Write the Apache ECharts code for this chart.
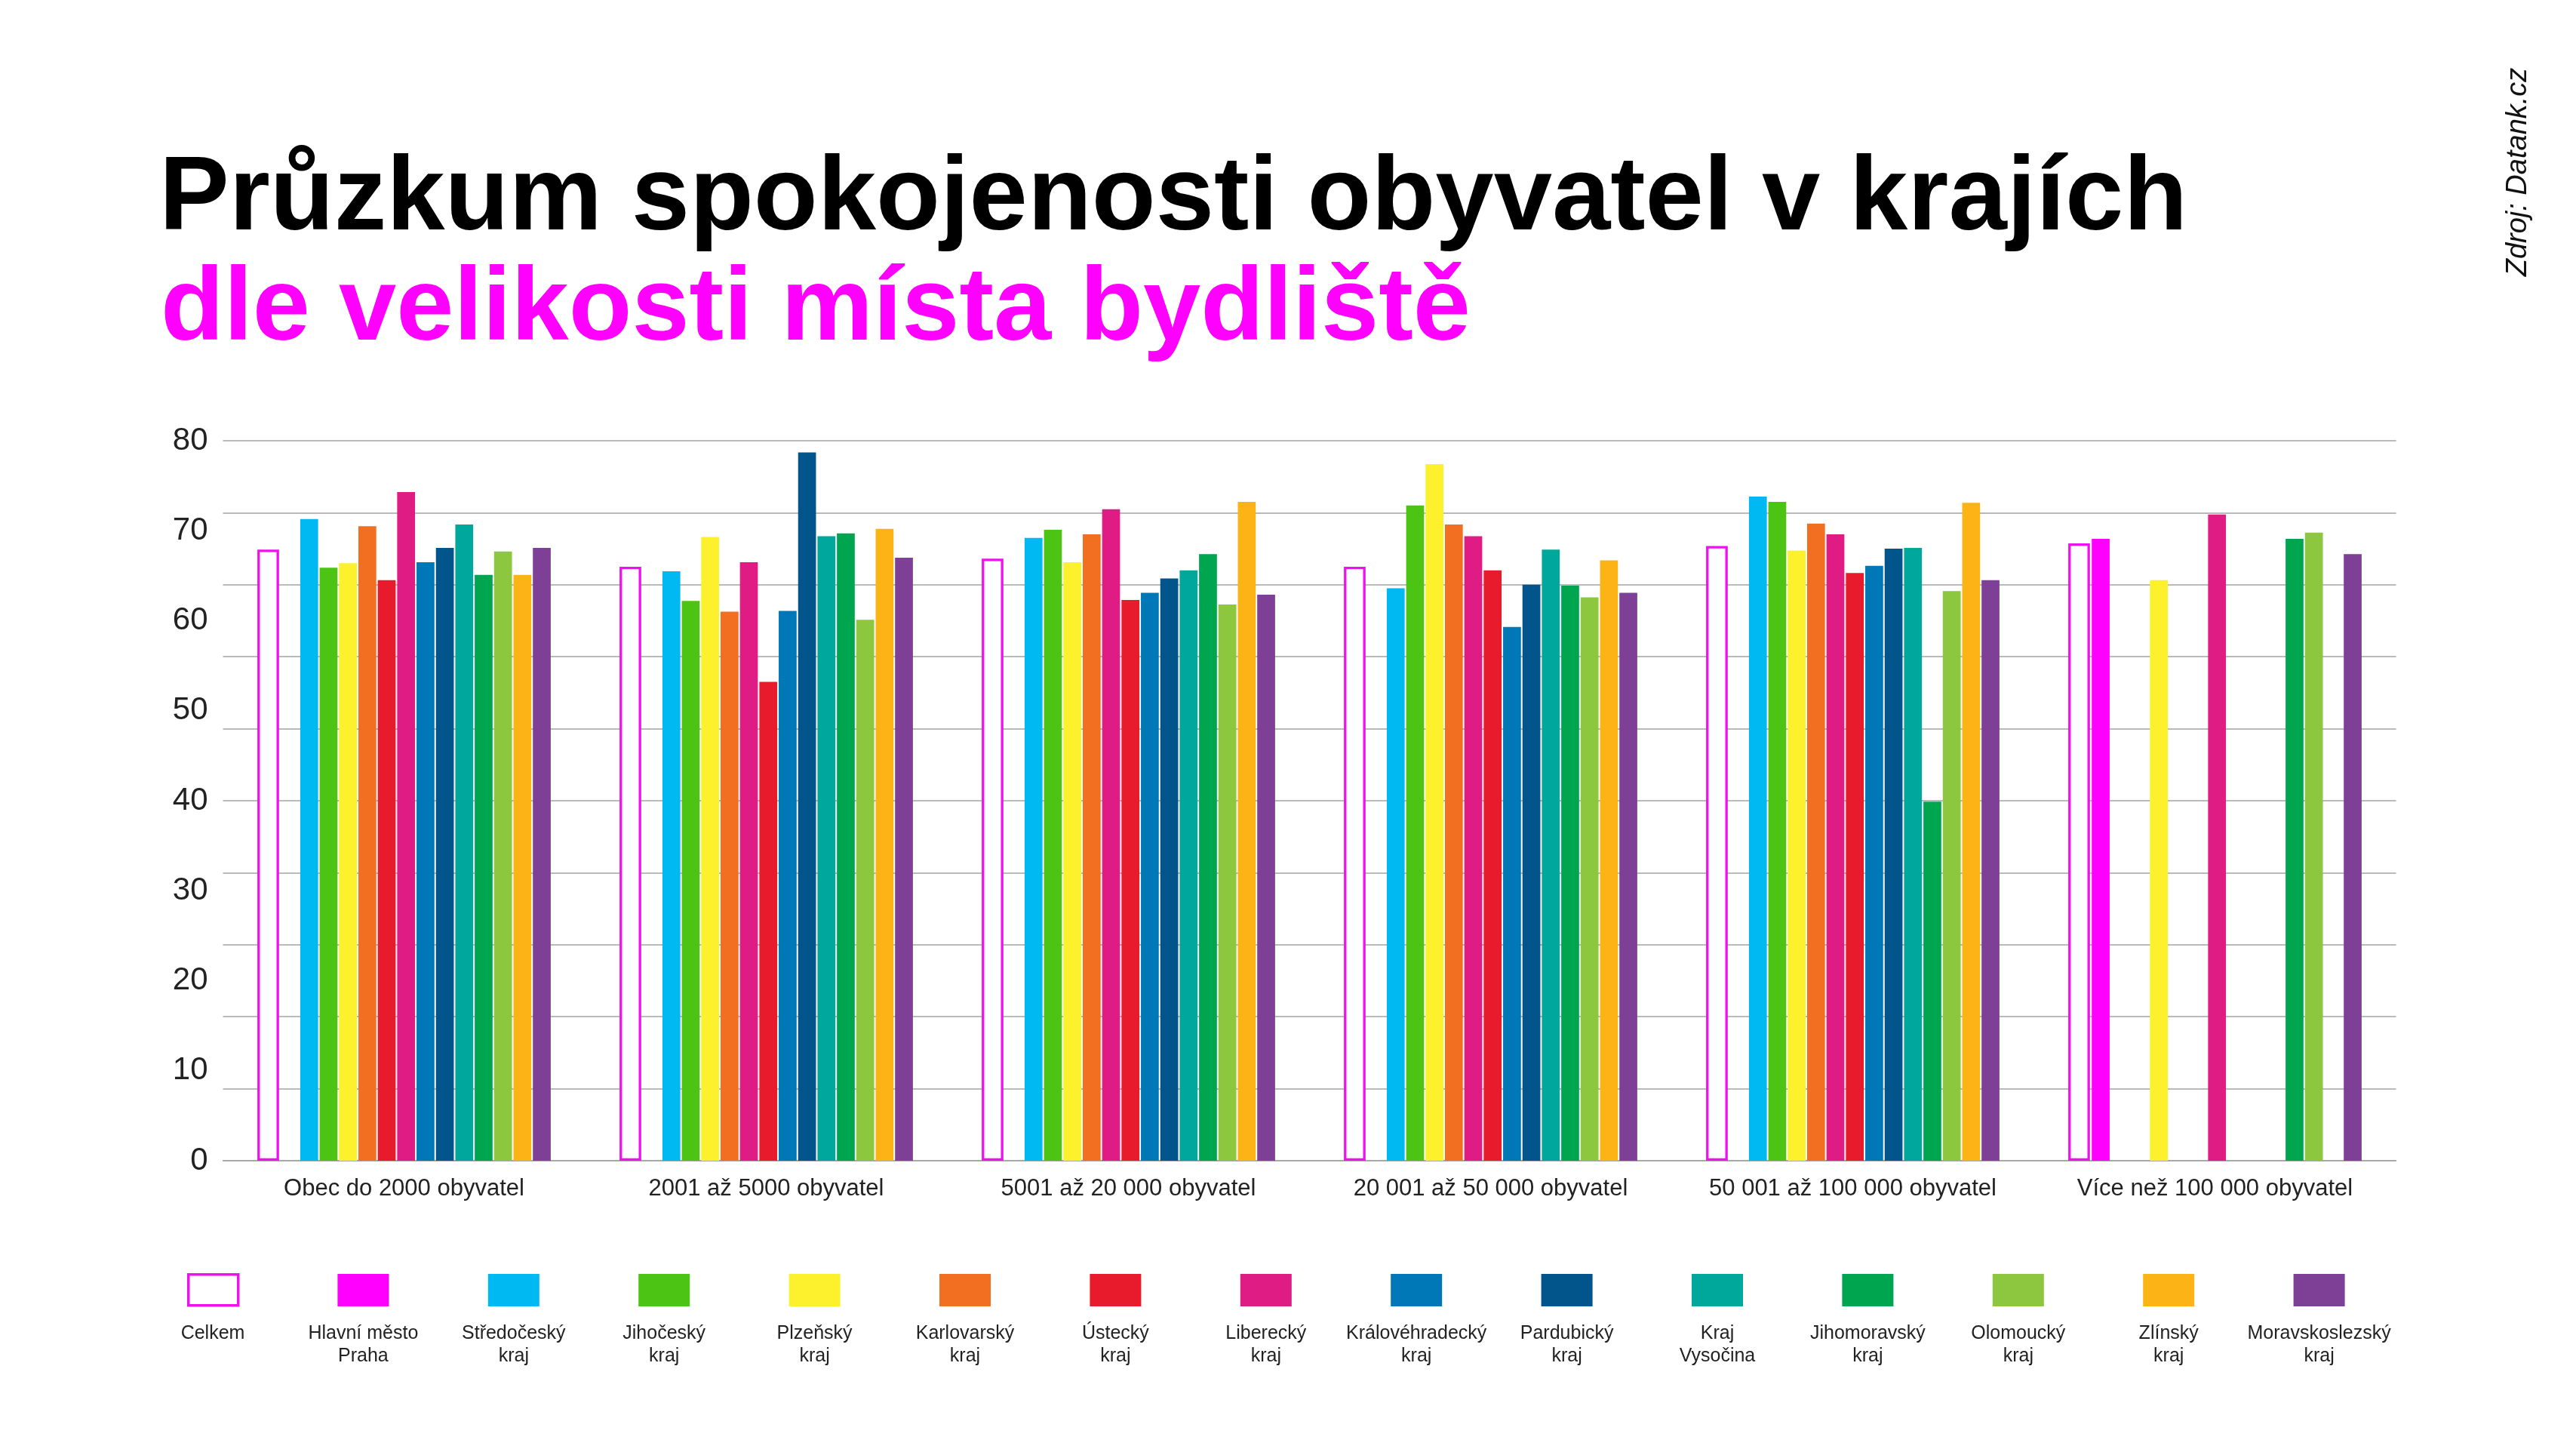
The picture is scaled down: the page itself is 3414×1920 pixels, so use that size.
<!DOCTYPE html>
<html>
<head>
<meta charset="utf-8">
<script src="https://cdn.jsdelivr.net/npm/echarts@6/dist/echarts.min.js"></script>
<style>
html, body { margin: 0; padding: 0; background: #fff; }
#main { width: 3414px; height: 1920px; }
</style>
</head>
<body>
<div id="main"></div>
<script>
// kategorie podle velikosti obce
var categories = ['Obec do 2000 obyvatel', '2001 až 5000 obyvatel', '5001 až 20 000 obyvatel',
  '20 001 až 50 000 obyvatel', '50 001 až 100 000 obyvatel', 'Více než 100 000 obyvatel'];

// hodnoty (null = bez dat)
var celkem          = [67.9, 66.0, 66.9, 66.0, 68.3, 68.6];
var praha           = [null, null, null, null, null, 69.1];
var stredocesky     = [71.3, 65.5, 69.2, 63.6, 73.8, null];
var jihocesky       = [65.9, 62.2, 70.1, 72.8, 73.2, null];
var plzensky        = [66.4, 69.3, 66.5, 77.4, 67.8, 64.5];
var karlovarsky     = [70.5, 61.0, 69.6, 70.7, 70.8, null];
var ustecky         = [64.5, 53.2, 62.3, 65.6, 65.3, null];
var liberecky       = [74.3, 66.5, 72.4, 69.4, 69.6, 71.8];
var kralovehradecky = [66.5, 61.1, 63.1, 59.3, 66.1, null];
var pardubicky      = [68.1, 78.7, 64.7, 64.0, 68.0, null];
var vysocina        = [70.7, 69.4, 65.6, 67.9, 68.1, null];
var jihomoravsky    = [65.1, 69.7, 67.4, 63.9, 39.9, 69.1];
var olomoucky       = [67.7, 60.1, 61.8, 62.6, 63.3, 69.8];
var zlinsky         = [65.1, 70.2, 73.2, 66.7, 73.1, null];
var moravskoslezsky = [68.1, 67.0, 62.9, 63.1, 64.5, 67.4];

// v techto skupinach je Liberecky sloupec pred Usteckym
var libereckyFirst = [false, true, true, true, true, false];

var legendNames = ['Celkem', 'Hlavní město\nPraha', 'Středočeský\nkraj', 'Jihočeský\nkraj', 'Plzeňský\nkraj',
  'Karlovarský\nkraj', 'Ústecký\nkraj', 'Liberecký\nkraj', 'Královéhradecký\nkraj', 'Pardubický\nkraj',
  'Kraj\nVysočina', 'Jihomoravský\nkraj', 'Olomoucký\nkraj', 'Zlínský\nkraj', 'Moravskoslezský\nkraj'];
var colors = ['#ee10ee', '#ff00ff', '#00b9f2', '#4cc413', '#fdf02c', '#f26f22', '#e81b2c', '#df1b84',
  '#0077b6', '#02558b', '#00a79b', '#00a54f', '#8dc63f', '#fbb316', '#7e3f97'];

var font = 'Liberation Sans, Arial, sans-serif';
var myChart = echarts.init(document.getElementById('main'));

var regionData = [praha, stredocesky, jihocesky, plzensky, karlovarsky, ustecky, liberecky,
  kralovehradecky, pardubicky, vysocina, jihomoravsky, olomoucky, zlinsky, moravskoslezsky];

var series = [{
  name: 'Celkem', type: 'bar', data: celkem, barWidth: 28.7, barGap: '8.4%',
  itemStyle: { color: '#fff', borderColor: colors[0], borderWidth: 3.3 }
}];
regionData.forEach(function (vals, i) {
  var data = vals.map(function (v, k) {
    // prohozeni poradi Usteckeho a Libereckeho
    if (libereckyFirst[k] && i == 5) return { value: liberecky[k], itemStyle: { color: colors[7] } };
    if (libereckyFirst[k] && i == 6) return { value: ustecky[k], itemStyle: { color: colors[6] } };
    return v;
  });
  series.push({
    name: legendNames[i + 1], type: 'bar', data: data, barWidth: 23.7, barGap: '8.4%',
    itemStyle: { color: colors[i + 1] }
  });
});

// legenda - obdelnik a popisek pod nim
var graphics = [];
legendNames.forEach(function (name, i) {
  var cx = 282 + i * 199.4;
  graphics.push({
    type: 'rect', left: cx - 34, top: i == 0 ? 1687 : 1688,
    shape: { width: i == 0 ? 66 : 68, height: i == 0 ? 41 : 43 },
    style: i == 0 ? { fill: '#fff', stroke: colors[0], lineWidth: 3.5 } : { fill: colors[i] }
  });
  graphics.push({
    type: 'text', x: cx, y: 1752,
    style: { text: name, font: '25px ' + font, fill: '#222', align: 'center', verticalAlign: 'top', lineHeight: 30 }
  });
});
graphics.push({
  type: 'text', x: 3337, y: 228, rotation: Math.PI / 2,
  style: { text: 'Zdroj: Datank.cz', font: 'italic 38px ' + font, fill: '#111', align: 'center', verticalAlign: 'middle' }
});

var option = {
  backgroundColor: '#fff',
  animation: false,
  title: [{
    text: 'Průzkum spokojenosti obyvatel v krajích', left: 211, top: 196, padding: 0,
    textStyle: { fontFamily: font, fontSize: 139, fontWeight: 'bold', color: '#000', lineHeight: 139 }
  }, {
    text: 'dle velikosti místa bydliště', left: 213, top: 344, padding: 0,
    textStyle: { fontFamily: font, fontSize: 137, fontWeight: 'bold', color: '#ff00ff', lineHeight: 137 }
  }],
  grid: { left: 295.5, right: 238.5, top: 584, bottom: 382 },
  xAxis: {
    type: 'category', data: categories,
    axisLine: { lineStyle: { color: '#a3a3a3', width: 1.5 } },
    axisTick: { show: false },
    axisLabel: { interval: 0, margin: 22, fontSize: 31, color: '#222', fontFamily: font }
  },
  yAxis: [{
    type: 'value', min: 0, max: 80, interval: 10,
    axisLine: { show: false }, axisTick: { show: false }, splitLine: { show: false },
    axisLabel: { fontSize: 42, color: '#222', margin: 20, fontFamily: font }
  }, {
    // mrizka je po 8 jednotkach
    type: 'value', min: 0, max: 80, interval: 8, alignTicks: false,
    axisLine: { show: false }, axisTick: { show: false }, axisLabel: { show: false },
    splitLine: { show: true, lineStyle: { color: '#a3a3a3', width: 1.5 } }
  }],
  series: series,
  graphic: graphics
};
myChart.setOption(option);
</script>
</body>
</html>
